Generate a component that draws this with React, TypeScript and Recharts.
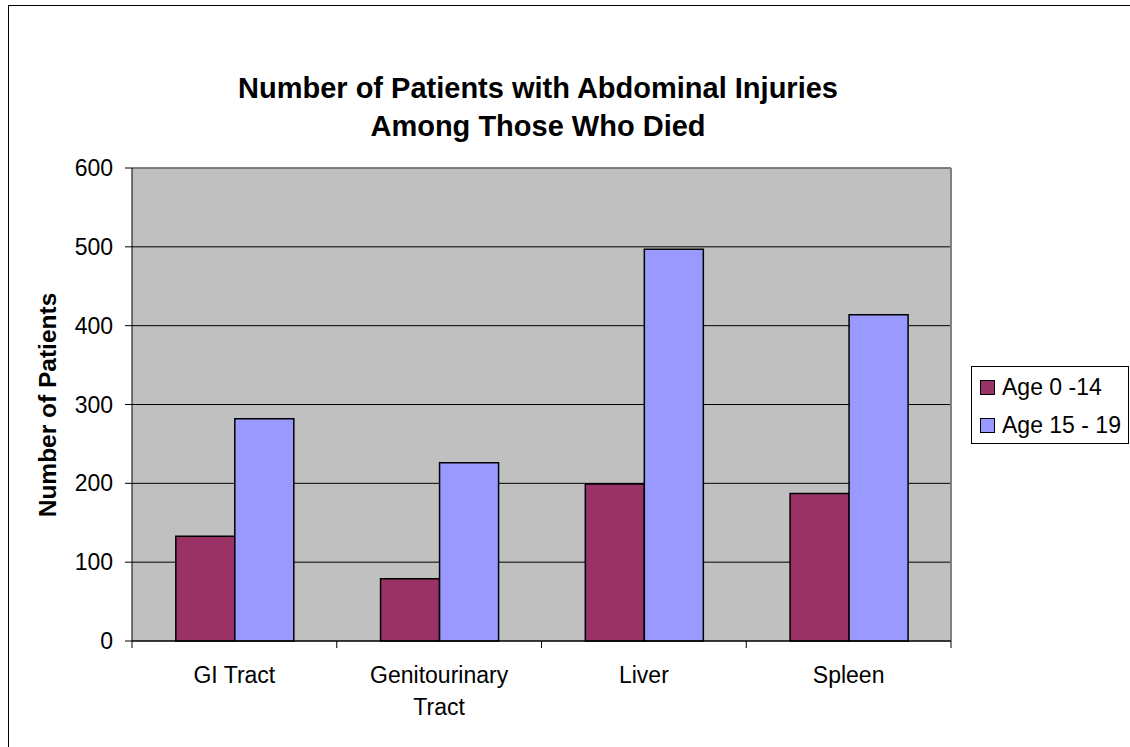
import { BarChart, Bar, XAxis, YAxis, CartesianGrid, Legend, ReferenceLine } from 'recharts'

const categories = ['GI Tract', 'Genitourinary Tract', 'Liver', 'Spleen']
const age0to14 = [133, 79, 199, 187]
const age15to19 = [282, 226, 497, 414]
const yTicks = [0, 100, 200, 300, 400, 500, 600]
const seriesNames = ['Age 0 -14', 'Age 15 - 19']

const data = categories.map((c, i) => ({
  category: c,
  young: age0to14[i],
  teen: age15to19[i],
}))

const W = 1130
const H = 747
const margin = { top: 168, right: 179, bottom: 26, left: 52 }
const Y_AXIS_W = 80
const X_AXIS_H = 80
const PLOT_W = W - margin.left - margin.right - Y_AXIS_W
const FONT = 'Arial, "Liberation Sans", sans-serif'

function CategoryTick(props: any) {
  const { x, y, payload, index } = props
  const band = PLOT_W / categories.length
  const left = x - band / 2
  const label: string = payload.value
  const cut = label.lastIndexOf(' ')
  const lines = label.length > 12 ? [label.slice(0, cut), label.slice(cut + 1)] : [label]
  return (
    <g>
      <line x1={left} y1={y} x2={left} y2={y + 7} stroke="#000" />
      {index === categories.length - 1 && (
        <line x1={left + band} y1={y} x2={left + band} y2={y + 7} stroke="#000" />
      )}
      <text x={x} y={y + 42} textAnchor="middle" fontSize={23} fontFamily={FONT} fill="#000">
        {lines.map((l, i) => (
          <tspan key={i} x={x} dy={i === 0 ? 0 : 32}>
            {l}
          </tspan>
        ))}
      </text>
    </g>
  )
}

function LegendBox({ payload }: any) {
  return (
    <div
      style={{
        boxSizing: 'border-box',
        width: 158,
        height: 78,
        border: '1px solid #000',
        background: '#fff',
        padding: '1px 0 0 8px',
        fontFamily: FONT,
        fontSize: 23,
        color: '#000',
      }}
    >
      {(payload || []).map((entry: any, i: number) => (
        <div key={i} style={{ display: 'flex', alignItems: 'center', height: 38 }}>
          <span
            style={{
              boxSizing: 'border-box',
              width: 15,
              height: 15,
              background: entry.color,
              border: '1.5px solid #000',
              marginRight: 7,
              flex: 'none',
            }}
          />
          <span style={{ whiteSpace: 'nowrap' }}>{entry.value}</span>
        </div>
      ))}
    </div>
  )
}

export default function App() {
  return (
    <div
      style={{
        position: 'absolute',
        left: 0,
        top: 0,
        width: W,
        height: H,
        overflow: 'hidden',
        background: '#fff',
      }}
    >
      <div
        style={{
          position: 'absolute',
          left: 8,
          top: 5,
          width: 1200,
          height: 800,
          border: '1px solid #000',
          boxSizing: 'border-box',
        }}
      />
      <div style={{ position: 'absolute', left: 0, top: 0 }}>
        <BarChart
          width={W}
          height={H}
          data={data}
          margin={margin}
          barGap={0}
          barCategoryGap="21.4%"
        >
          <CartesianGrid horizontal vertical={false} stroke="#000" fill="#C0C0C0" />
          <CartesianGrid
            horizontal={false}
            vertical
            stroke="#808080"
            strokeWidth={2}
            verticalCoordinatesGenerator={({ offset }: any) => [offset.left + offset.width]}
          />
          <ReferenceLine y={600} stroke="#808080" strokeWidth={1.5} />
          <XAxis
            dataKey="category"
            height={X_AXIS_H}
            axisLine={{ stroke: '#000' }}
            tickLine={false}
            tickSize={0}
            tickMargin={0}
            interval={0}
            tick={<CategoryTick />}
          />
          <YAxis
            width={Y_AXIS_W}
            domain={[0, 600]}
            ticks={yTicks}
            interval={0}
            axisLine={{ stroke: '#000' }}
            tickLine={{ stroke: '#000' }}
            tickSize={7}
            tickMargin={12}
            tick={{ fontSize: 23, fill: '#000', fontFamily: FONT }}
          />
          <Legend
            layout="horizontal"
            align="center"
            verticalAlign="middle"
            width={158}
            height={78}
            wrapperStyle={{ left: 971, top: 366, width: 158, height: 78 }}
            content={<LegendBox />}
          />
          <Bar
            dataKey="young"
            name={seriesNames[0]}
            fill="#993366"
            stroke="#000"
            strokeWidth={1.5}
            isAnimationActive={false}
          />
          <Bar
            dataKey="teen"
            name={seriesNames[1]}
            fill="#9999FF"
            stroke="#000"
            strokeWidth={1.5}
            isAnimationActive={false}
          />
        </BarChart>
      </div>
      <svg
        width={W}
        height={H}
        style={{ position: 'absolute', left: 0, top: 0, pointerEvents: 'none' }}
      >
        <text x={538} y={98} textAnchor="middle" fontFamily={FONT} fontWeight="bold" fontSize={29} fill="#000">
          Number of Patients with Abdominal Injuries
        </text>
        <text x={538} y={136} textAnchor="middle" fontFamily={FONT} fontWeight="bold" fontSize={29} fill="#000">
          Among Those Who Died
        </text>
        <text
          x={47}
          y={405}
          dy="0.35em"
          textAnchor="middle"
          transform="rotate(-90 47 405)"
          fontFamily={FONT}
          fontWeight="bold"
          fontSize={24.5}
          fill="#000"
        >
          Number of Patients
        </text>
      </svg>
    </div>
  )
}
